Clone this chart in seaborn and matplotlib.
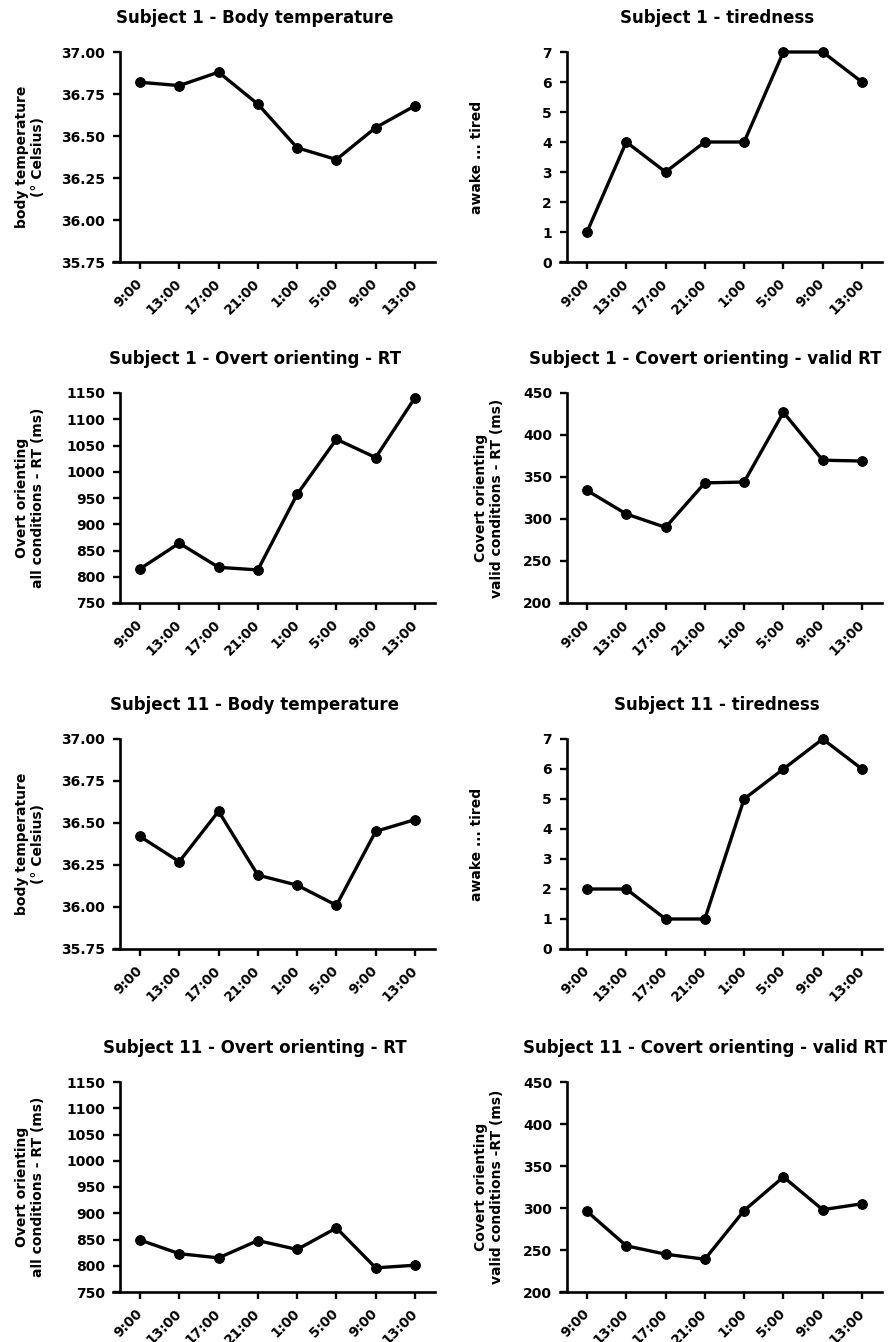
import matplotlib
matplotlib.use("Agg")
import matplotlib.pyplot as plt
import seaborn as sns
import numpy as np
import pandas as pd

times = ["9:00", "13:00", "17:00", "21:00", "1:00", "5:00", "9:00", "13:00"]

s1_temp = [36.82, 36.80, 36.88, 36.69, 36.43, 36.36, 36.55, 36.68]
s1_tired = [1, 4, 3, 4, 4, 7, 7, 6]
s1_overt = [815, 864, 818, 813, 957, 1062, 1027, 1141]
s1_covert = [334, 306, 290, 343, 344, 427, 370, 369]

s11_temp = [36.42, 36.27, 36.57, 36.19, 36.13, 36.01, 36.45, 36.52]
s11_tired = [2, 2, 1, 1, 5, 6, 7, 6]
s11_overt = [849, 823, 815, 848, 831, 872, 796, 801]
s11_covert = [296, 255, 245, 239, 297, 337, 298, 305]

titles = [
    "Subject 1 - Body temperature", "Subject 1 - tiredness",
    "Subject 1 - Overt orienting - RT", "Subject 1 - Covert orienting - valid RT",
    "Subject 11 - Body temperature", "Subject 11 - tiredness",
    "Subject 11 - Overt orienting - RT", "Subject 11 - Covert orienting - valid RT",
]
ylabels = [
    "body temperature\n(° Celsius)", "awake ... tired",
    "Overt orienting\nall conditions - RT (ms)", "Covert orienting\nvalid conditions - RT (ms)",
    "body temperature\n(° Celsius)", "awake ... tired",
    "Overt orienting\nall conditions - RT (ms)", "Covert orienting\nvalid conditions -RT (ms)",
]
temp_ticks = [35.75, 36.00, 36.25, 36.50, 36.75, 37.00]
tired_ticks = [0, 1, 2, 3, 4, 5, 6, 7]
overt_ticks = [750, 800, 850, 900, 950, 1000, 1050, 1100, 1150]
covert_ticks = [200, 250, 300, 350, 400, 450]

series = [s1_temp, s1_tired, s1_overt, s1_covert, s11_temp, s11_tired, s11_overt, s11_covert]
ticks = [temp_ticks, tired_ticks, overt_ticks, covert_ticks] * 2
fmts = ["{:.2f}", "{:d}", "{:d}", "{:d}"] * 2

sns.set_style("ticks")
plt.rcParams["font.family"] = ["DejaVu Sans"]
plt.rcParams["font.weight"] = "bold"
plt.rcParams["text.color"] = "black"
plt.rcParams["axes.labelcolor"] = "black"
plt.rcParams["xtick.color"] = "black"
plt.rcParams["ytick.color"] = "black"

W, H = 894, 1342
fig = plt.figure(figsize=(W / 100, H / 100), dpi=100)

col_x = [113, 560]
row_top = [52, 393, 739, 1082]
ax_w, ax_h = 322, 210
label_px = [-83, -83, -83, -71] * 2
title_px = [142, 157, 142, 145] * 2

for i in range(8):
    r, c = divmod(i, 2)
    left = col_x[c] / W
    bottom = 1 - (row_top[r] + ax_h) / H
    ax = fig.add_axes([left, bottom, ax_w / W, ax_h / H])
    df = pd.DataFrame({"pos": np.arange(len(times)), "val": series[i]})
    sns.lineplot(data=df, x="pos", y="val", ax=ax, color="black", linewidth=2.4,
                 marker="o", markersize=7, markeredgecolor="black", clip_on=False)
    tk = ticks[i]
    ax.set_ylim(tk[0], tk[-1])
    ax.set_yticks(tk)
    ax.set_yticklabels([fmts[i].format(t) for t in tk], fontsize=9.5, fontweight="bold",
                       color="black")
    ax.set_xlim(-0.687, 7.51)
    ax.spines["left"].set_position(("data", -0.5))
    ax.set_xticks(np.arange(len(times)))
    ax.set_xticklabels(times, rotation=45, ha="right", va="center",
                       rotation_mode="anchor", fontsize=9.8, fontweight="bold",
                       color="black")
    ax.tick_params(axis="both", width=1.7, length=5, color="black")
    ax.tick_params(axis="y", pad=6)
    ax.tick_params(axis="x", pad=9)
    for s in ["left", "bottom"]:
        ax.spines[s].set_linewidth(1.9)
        ax.spines[s].set_color("black")
    ax.spines["top"].set_visible(False)
    ax.spines["right"].set_visible(False)
    ax.set_xlabel("")
    ax.set_ylabel(ylabels[i], fontsize=10, fontweight="bold", va="center", ha="center",
                  color="black")
    ax.yaxis.set_label_coords(label_px[i] / ax_w, 0.5)
    ax.set_title(titles[i], fontsize=12, fontweight="bold", pad=21, x=title_px[i] / ax_w,
                 color="black")

fig.savefig("out.png", dpi=100)
